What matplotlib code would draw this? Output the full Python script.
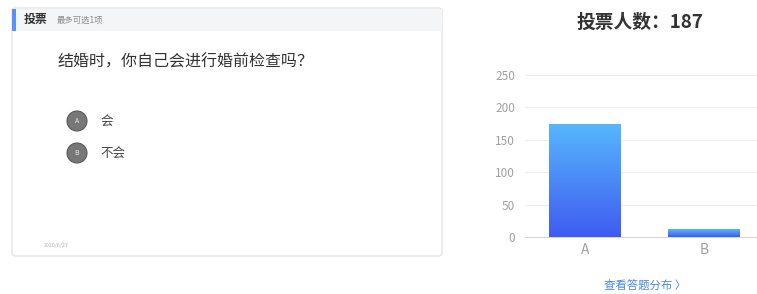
import matplotlib.pyplot as plt
import numpy as np
from matplotlib.patches import FancyBboxPatch, Rectangle, Circle
from matplotlib.colors import LinearSegmentedColormap

plt.rcParams['font.family'] = ['Noto Sans CJK SC', 'DejaVu Sans']

# vote data
categories = ['A', 'B']
option_texts = ['会', '不会']
votes = [175, 12]
y_ticks = [0, 50, 100, 150, 200, 250]
question = '结婚时，你自己会进行婚前检查吗？'
total = sum(votes)

W, H = 757, 294
fig = plt.figure(figsize=(W / 100, H / 100), dpi=100)

# background layer in pixel coordinates
bg = fig.add_axes([0, 0, 1, 1])
bg.set_xlim(0, W)
bg.set_ylim(H, 0)
bg.axis('off')

# card
bg.add_patch(FancyBboxPatch((12, 8), 430, 248, boxstyle='round,pad=0,rounding_size=3',
                            facecolor='white', edgecolor='#e3e3e3', linewidth=0.9))
bg.add_patch(Rectangle((12.5, 8.5), 429, 22.5, facecolor='#f4f5f7', edgecolor='none'))
bg.add_patch(Rectangle((12, 8.5), 4, 22.5, facecolor='#5b8ff9', edgecolor='none'))
bg.text(24, 19.5, '投票', fontsize=8.6, fontweight='bold', color='#333333', va='center')
bg.text(57, 20, '最多可选1项', fontsize=6, color='#8a8a8a', va='center')

bg.text(58, 62, question, fontsize=11.5, color='#333333', va='center')

for i, (cat, txt) in enumerate(zip(categories, option_texts)):
    cy = 121 + i * 32
    bg.add_patch(Circle((77, cy), 10, facecolor='#777777', edgecolor='#5a5a5a', linewidth=0.8))
    bg.text(77, cy, cat, fontsize=5, color='#e8e8e8', ha='center', va='center')
    bg.text(100, cy, txt, fontsize=9, color='#444444', va='center')

bg.text(44, 245, '2020/6/27', fontsize=3.8, color='#b0b0b0', va='center')

# chart title and link
bg.text(640, 22, f'投票人数：{total}', fontsize=13.5, fontweight='bold',
        color='#333333', ha='center', va='center')
bg.text(645, 285, '查看答题分布 〉', fontsize=8.2, color='#4a8ad8', ha='center', va='center')

# bar chart
ax = fig.add_axes([525 / W, 1 - 237 / H, (W - 525) / W, (237 - 75) / H])
x = np.arange(len(categories))
bars = ax.bar(x, votes, width=0.6, color='none', zorder=3)
ax.set_yticks(y_ticks)
ax.set_xticks(x)
ax.set_xticklabels(categories)
ax.tick_params(axis='both', length=0, colors='#a0a0a0')
ax.tick_params(axis='y', labelsize=8.5, pad=7)
ax.tick_params(axis='x', labelsize=10, pad=4)
ax.grid(axis='y', color='#eeeeee', linewidth=0.8, zorder=0)
for s in ['top', 'right', 'left']:
    ax.spines[s].set_visible(False)
ax.spines['bottom'].set_color('#d6d6d6')
ax.set_facecolor('none')

cmap = LinearSegmentedColormap.from_list('grad', ['#3f5bf0', '#56b8fc'])
grad = np.linspace(0, 1, 256).reshape(-1, 1)
for b in bars:
    x0, w, h = b.get_x(), b.get_width(), b.get_height()
    im = ax.imshow(grad, cmap=cmap, origin='lower', aspect='auto',
                   extent=[x0, x0 + w, 0, h], zorder=3)
    im.set_clip_path(b)
ax.set_xlim(-0.504, 1.445)
ax.set_ylim(0, 250)

fig.savefig('out.png', dpi=100)
